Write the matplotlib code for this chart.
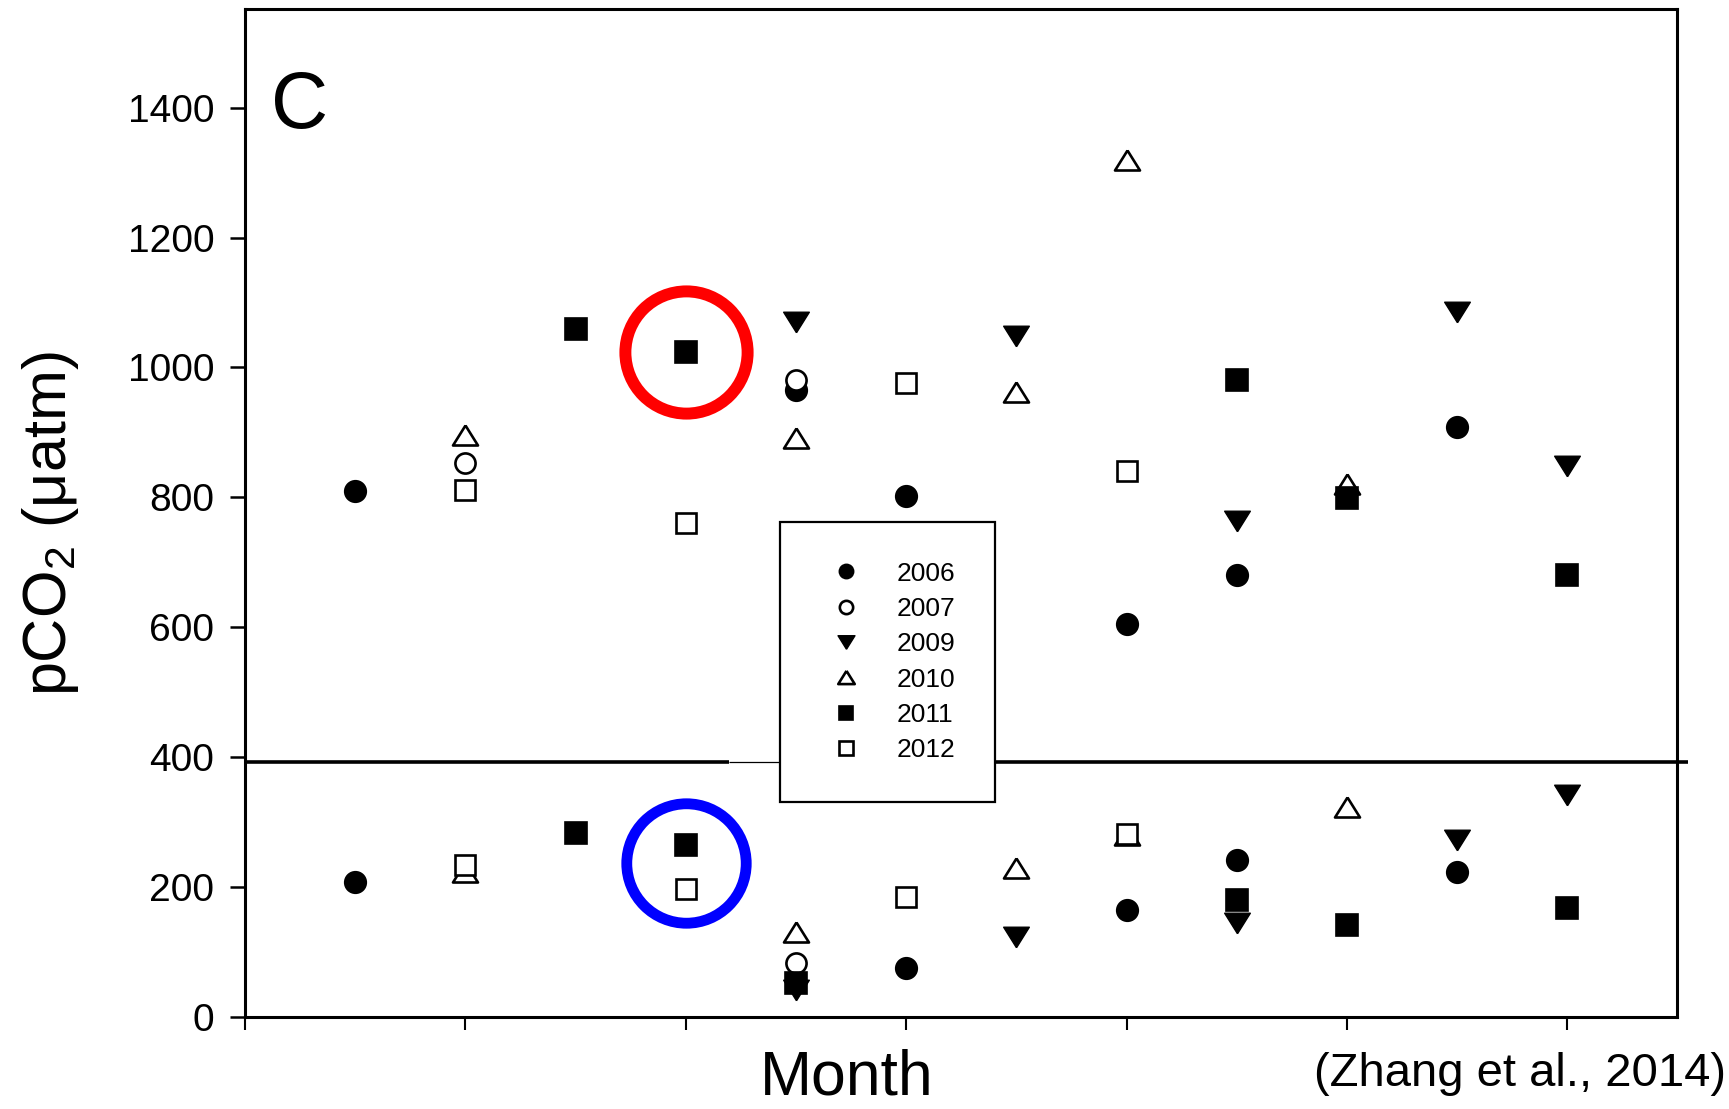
import matplotlib
matplotlib.use("Agg")
import matplotlib.pyplot as plt
import numpy as np

plt.rcParams['font.family'] = ['Liberation Sans', 'DejaVu Sans']
plt.rcParams['mathtext.fontset'] = 'custom'
plt.rcParams['mathtext.rm'] = 'Liberation Sans'
plt.rcParams['mathtext.it'] = 'Liberation Sans:italic'
plt.rcParams['mathtext.default'] = 'regular'

# Monthly pCO2 (µatm): each month carries a high and a low value per year
years = ['2006', '2007', '2009', '2010', '2011', '2012']

months_2006 = [1, 1, 5, 6, 6, 8, 8, 9, 9, 11, 11]
pco2_2006 = [810, 208, 965, 802, 75, 605, 165, 680, 242, 909, 223]

months_2007 = [2, 5, 5]
pco2_2007 = [853, 981, 83]

months_2009 = [5, 5, 7, 7, 9, 9, 11, 11, 12, 12]
pco2_2009 = [1070, 42, 1048, 123, 763, 145, 1085, 272, 849, 342]

months_2010 = [2, 2, 5, 5, 7, 7, 8, 8, 10, 10]
pco2_2010 = [896, 223, 891, 131, 963, 230, 1320, 280, 821, 323]

months_2011 = [3, 3, 4, 4, 5, 9, 9, 10, 10, 12, 12]
pco2_2011 = [1060, 284, 1024, 265, 53, 980, 180, 799, 142, 680, 168]

months_2012 = [2, 2, 4, 4, 6, 6, 8, 8]
pco2_2012 = [811, 234, 761, 197, 976, 185, 841, 282]

# atmospheric reference level
atm_level = 393

# highlighted April values
highlight_month = 4
highlight_high = 1024
highlight_low = 237

y_ticks = [0, 200, 400, 600, 800, 1000, 1200, 1400]
x_ticks = [0, 2, 4, 6, 8, 10, 12]

tri_up = [(0, 0.8), (-1, -0.8), (1, -0.8), (0, 0.8)]
tri_down = [(0, -0.8), (-1, 0.8), (1, 0.8), (0, -0.8)]

styles = {
    '2006': dict(marker='o', mfc='black', ms=15.5, mew=1.2),
    '2007': dict(marker='o', mfc='white', ms=14.5, mew=1.9),
    '2009': dict(marker=tri_down, mfc='black', ms=18.5, mew=1.0),
    '2010': dict(marker=tri_up, mfc='white', ms=18.0, mew=1.9),
    '2011': dict(marker='s', mfc='black', ms=15.5, mew=1.2),
    '2012': dict(marker='s', mfc='white', ms=14.5, mew=1.9),
}
series = {
    '2006': (months_2006, pco2_2006),
    '2007': (months_2007, pco2_2007),
    '2009': (months_2009, pco2_2009),
    '2010': (months_2010, pco2_2010),
    '2011': (months_2011, pco2_2011),
    '2012': (months_2012, pco2_2012),
}

fig = plt.figure(figsize=(17.29, 11.09), dpi=100)
ax = fig.add_axes([0.1417, 0.0830, 0.8285, 0.9089])

for yr in years:
    mx, vals = series[yr]
    st = styles[yr]
    ax.plot(mx, vals, linestyle='none', marker=st['marker'], markersize=st['ms'],
            markerfacecolor=st['mfc'], markeredgecolor='black',
            markeredgewidth=st['mew'], label=yr, zorder=3)

# atmospheric level line
ax.plot([0, 4.39], [atm_level, atm_level], color='black', lw=2.6, zorder=2,
        clip_on=False, solid_capstyle='butt')
ax.plot([4.39, 6.0], [atm_level, atm_level], color='black', lw=0.9, zorder=2,
        clip_on=False, solid_capstyle='butt')
ax.plot([6.0, 13.1], [atm_level, atm_level], color='black', lw=2.6, zorder=2,
        clip_on=False, solid_capstyle='butt')

# highlight rings
ax.plot([highlight_month], [highlight_high], linestyle='none', marker='o',
        markersize=88, markerfacecolor='none', markeredgecolor='#ff0000',
        markeredgewidth=8.6, zorder=4, clip_on=False)
ax.plot([highlight_month], [highlight_low], linestyle='none', marker='o',
        markersize=86, markerfacecolor='none', markeredgecolor='#0000ff',
        markeredgewidth=7.8, zorder=4, clip_on=False)

ax.set_xlim(0, 13)
ax.set_ylim(0, 1552)
ax.set_yticks(y_ticks)
ax.set_yticklabels([str(v) for v in y_ticks])
ax.set_xticks(x_ticks)
ax.set_xticklabels([])
ax.tick_params(axis='y', direction='out', length=11, width=1.8, pad=11,
               labelsize=28)
ax.tick_params(axis='x', direction='out', length=9, width=1.5)
for sp in ax.spines.values():
    sp.set_linewidth(2.2)

ax.text(0.038, 0.902, 'C', transform=ax.transAxes, fontsize=57,
        ha='center', va='center')

leg = ax.legend(loc='upper left', bbox_to_anchor=(0.3736, 0.491),
                fontsize=19, markerscale=0.66, handlelength=2.0,
                handletextpad=0.9, labelspacing=0.43, borderpad=1.5,
                borderaxespad=0, frameon=True, fancybox=False,
                framealpha=1.0, numpoints=1)
leg.get_frame().set_edgecolor('black')
leg.get_frame().set_linewidth(1.6)
leg.set_zorder(5)

fig.text(0.029, 1 - 524 / 1109, r'pCO$_2$ ($\mu$atm)', rotation=90,
         fontsize=44, ha='center', va='center')
fig.text(847 / 1729, 0.001, 'Month', fontsize=45, ha='center',
         va='bottom')
fig.text(0.9983, 0.0207, '(Zhang et al., 2014)', fontsize=34, ha='right',
         va='baseline')

fig.savefig('out.png', dpi=100)
